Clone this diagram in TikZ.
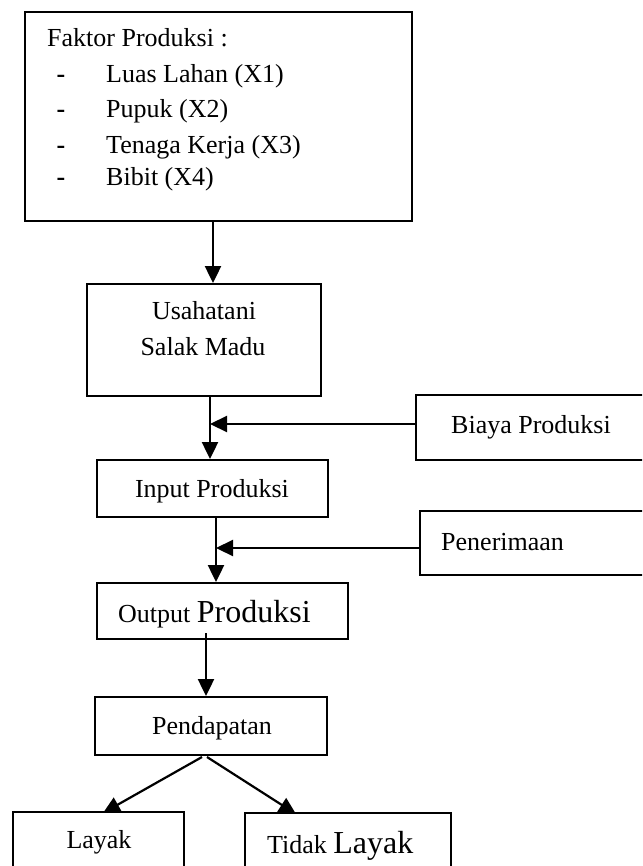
\documentclass[tikz,border=0pt]{standalone}
\usepackage{fontspec}
\setmainfont{Liberation Serif}
\usetikzlibrary{arrows.meta}
\tikzset{
  boxnode/.style={draw, line width=1.9pt, rectangle, inner sep=0pt},
  txt/.style={inner sep=0pt, font=\fontsize{26}{30}\selectfont},
  arr/.style={line width=2.2pt, -{Triangle[length=17pt,width=16pt]}},
  plain/.style={line width=2.2pt}
}
\newcommand{\bigtxt}{\fontsize{32}{36}\selectfont}
\begin{document}
\begin{tikzpicture}[x=1pt,y=-1pt]
\useasboundingbox (0,0) rectangle (642,866);
\clip (0,0) rectangle (642,866);

% boxes (corner coordinates in pixels, y downward)
\node[boxnode, minimum width=387pt, minimum height=209pt] (faktor) at (218.5,116.5) {};
\node[boxnode, minimum width=234pt, minimum height=112pt] (usaha) at (204,340) {};
\node[boxnode, minimum width=250pt, minimum height=65pt] (biaya) at (541,427.5) {};
\node[boxnode, minimum width=231pt, minimum height=57pt] (input) at (212.5,488.5) {};
\node[boxnode, minimum width=250pt, minimum height=64pt] (terima) at (545,543) {};
\node[boxnode, minimum width=251pt, minimum height=56pt] (output) at (222.5,611) {};
\node[boxnode, minimum width=232pt, minimum height=58pt] (pendapatan) at (211,726) {};
\node[boxnode, minimum width=171pt, minimum height=70pt] (layak) at (98.5,847) {};
\node[boxnode, minimum width=206pt, minimum height=70pt] (tidak) at (348,848) {};

% texts
\node[txt, anchor=base west] (t0) at (47,47) {Faktor Produksi :};
\node[txt, anchor=base] (d1) at (61,83) {\textbf{-}};
\node[txt, anchor=base] (d2) at (61,118) {\textbf{-}};
\node[txt, anchor=base] (d3) at (61,154) {\textbf{-}};
\node[txt, anchor=base] (d4) at (61,186) {\textbf{-}};
\node[txt, anchor=base west] (t1) at (106,83) {Luas Lahan (X1)};
\node[txt, anchor=base west] (t2) at (106,118) {Pupuk (X2)};
\node[txt, anchor=base west] (t3) at (106,154) {Tenaga Kerja (X3)};
\node[txt, anchor=base west] (t4) at (106,186) {Bibit (X4)};

\node[txt, anchor=base] (u1) at (204,319) {Usahatani};
\node[txt, anchor=base] (u2) at (203,355) {Salak Madu};
\node[txt, anchor=base west] (bt) at (451,433) {Biaya Produksi};
\node[txt, anchor=base] (it) at (212,497) {Input Produksi};
\node[txt, anchor=base west] (pt) at (441,550) {Penerimaan};
\node[txt, anchor=base west] (ot) at (118,622) {Output {\bigtxt Produksi}};
\node[txt, anchor=base] (pdt) at (212,734) {Pendapatan};
\node[txt, anchor=base] (lt) at (99,848) {Layak};
\node[txt, anchor=base west] (tt) at (267,853) {Tidak {\bigtxt Layak}};

% helper coordinates
\coordinate (x1) at (213,0);
\coordinate (x2) at (210,0);
\coordinate (y2) at (0,424);
\coordinate (x3) at (216,0);
\coordinate (y3) at (0,548);
\coordinate (x4) at (206,0);
\coordinate (o4) at (206,633);
\coordinate (s5) at (202,757);
\coordinate (e5) at (103,813);
\coordinate (s6) at (207,757);
\coordinate (e6) at (296,814);

% connectors
\draw[arr] (faktor.south -| x1) -- (usaha.north -| x1);
\draw[arr] (usaha.south -| x2) -- (input.north -| x2);
\draw[arr] (biaya.west |- y2) -- (x2 |- y2);
\draw[arr] (input.south -| x3) -- (output.north -| x3);
\draw[arr] (terima.west |- y3) -- (x3 |- y3);
\draw[arr] (o4) -- (pendapatan.north -| x4);
\draw[arr] (s5) -- (e5);
\draw[arr] (s6) -- (e6);
\end{tikzpicture}
\end{document}
